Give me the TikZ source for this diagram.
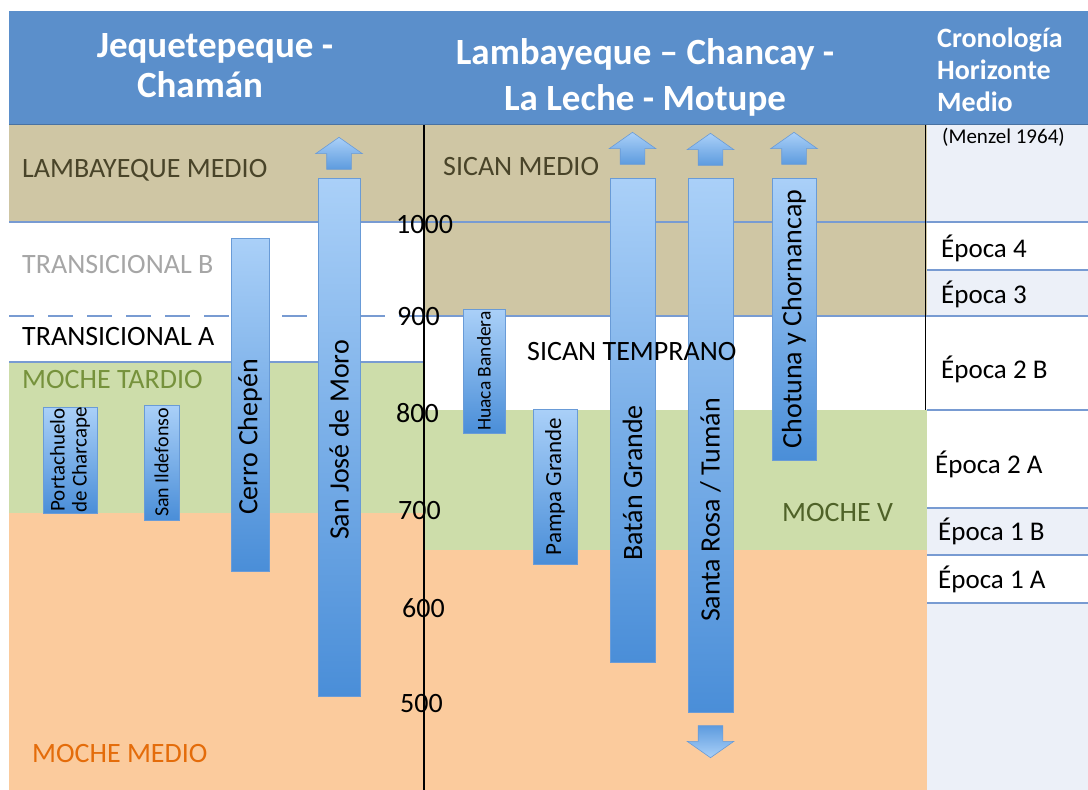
\documentclass[tikz,border=0pt]{standalone}
\usepackage{fontspec}
\setmainfont{Carlito}
\usetikzlibrary{shapes.arrows,positioning}

\definecolor{headblue}{RGB}{91,143,203}
\definecolor{tanband}{RGB}{207,198,164}
\definecolor{greenband}{RGB}{205,221,170}
\definecolor{orangeband}{RGB}{251,203,157}
\definecolor{paleblue}{RGB}{236,240,248}
\definecolor{gridblue}{RGB}{120,155,210}
\definecolor{barlight}{RGB}{170,208,248}
\definecolor{bardark}{RGB}{74,142,216}
\definecolor{barline}{RGB}{105,155,215}
\definecolor{olivetext}{RGB}{73,68,41}
\definecolor{greentext}{RGB}{118,146,60}
\definecolor{vtext}{RGB}{79,98,40}
\definecolor{orangetext}{RGB}{228,108,10}
\definecolor{greytext}{RGB}{166,166,166}

\begin{document}
\begin{tikzpicture}[x=1pt, y=-1pt,
        bar/.style={draw=barline, line width=0.8pt, top color=barlight, bottom color=bardark, inner sep=0pt},
        uparrow/.style={single arrow, shape border rotate=90, draw=barline, line width=0.6pt,
            top color=barlight, bottom color=bardark!80!barlight, minimum height=32pt,
            single arrow head extend=11pt, single arrow tip angle=110, inner xsep=12pt, inner ysep=0pt},
        downarrow/.style={uparrow, shape border rotate=270, top color=bardark!80!barlight, bottom color=barlight},
        barlabel/.style={rotate=90, inner sep=0pt, font=\fontsize{28}{30}\selectfont},
        band/.style={anchor=base west, inner sep=0pt, font=\fontsize{28}{30}\selectfont},
        year/.style={anchor=base west, inner sep=0pt, font=\fontsize{28}{30}\selectfont},
        epoca/.style={anchor=base west, inner sep=0pt, font=\fontsize{27}{30}\selectfont},
        head/.style={text=white, align=center, inner sep=0pt, font=\bfseries\fontsize{37}{40}\selectfont},
        gridline/.style={draw=gridblue, line width=1.2pt}]
        \useasboundingbox (0,0) rectangle (1088,790);

        % Bands
        \fill[headblue] (9,11) rectangle (1088,124);
        \draw[headblue!80!black, line width=0.8pt] (9,124) -- (1088,124);
        \fill[tanband] (9,125) rectangle (424,222);
        \fill[greenband] (9,362) rectangle (424,513);
        \fill[orangeband] (9,513) rectangle (424,790);
        \fill[tanband] (424,125) rectangle (927,316);
        \fill[greenband] (424,410) rectangle (927,550);
        \fill[orangeband] (424,550) rectangle (927,790);
        \fill[paleblue] (927,125) rectangle (1088,222);
        \fill[paleblue] (927,270) rectangle (1088,316);
        \fill[paleblue] (927,508) rectangle (1088,555);
        \fill[paleblue] (927,603) rectangle (1088,790);

        % Grid lines
        \draw[gridline] (9,222) -- (1088,222);
        \draw[gridline] (424,316) -- (1088,316);
        \draw[gridline, dash pattern=on 25pt off 14pt] (9,316) -- (424,316);
        \draw[gridline] (9,362) -- (424,362);
        \foreach \y in {270,410,508,555,603}
            \draw[gridline] (927,\y) -- (1088,\y);
        \draw[black, line width=1pt] (925,125) -- (925,410);

        % Headings
        \node[head] (hjeq) at (215,66) {Jequetepeque -\\Chamán\hspace*{30pt}};
        \node[head, font=\bfseries\fontsize{37}{46}\selectfont] (hlam) at (645,77) {Lambayeque – Chancay -\\La Leche - Motupe};
        \node[anchor=west, text=white, align=left, inner sep=0pt, font=\bfseries\fontsize{28}{32}\selectfont] (hcron) at (937,70) {Cronología\\Horizonte\\Medio};

        % Menzel column
        \node[anchor=base west, inner sep=0pt, font=\fontsize{21}{24}\selectfont] (menzel) at (942,143) {(Menzel 1964)};
        \node[epoca] (ep4) at (941,257) {Época 4};
        \node[epoca] (ep3) at (941,303) {Época 3};
        \node[epoca] (ep2b) at (941,378) {Época 2 B};
        \node[epoca] (ep2a) at (935,473) {Época 2 A};
        \node[epoca] (ep1b) at (938,540) {Época 1 B};
        \node[epoca] (ep1a) at (938,588) {Época 1 A};

        % Years
        \foreach \yr/\x/\y in {1000/396/233, 900/397/325, 800/396/422, 700/398/519, 600/402/617, 500/400/712}
            \node[year] (y\yr) at (\x,\y) {\yr};
        \draw[black, line width=1.2pt] (424,125) -- (424,790);

        % Sites
        \node[bar, minimum width=54pt, minimum height=106pt] (port) at (70,460) {};
        \node[bar, minimum width=35pt, minimum height=115pt] (sild) at (161.5,462.5) {};
        \node[bar, minimum width=38pt, minimum height=333pt] (cchep) at (250,404.5) {};
        \node[bar, minimum width=42pt, minimum height=518pt] (sjm) at (339,437) {};
        \node[bar, minimum width=42pt, minimum height=124pt] (hband) at (484,371) {};
        \node[bar, minimum width=44pt, minimum height=155pt] (pampa) at (555,486.5) {};
        \node[bar, minimum width=45pt, minimum height=484pt] (batan) at (632.5,420) {};
        \node[bar, minimum width=45pt, minimum height=534pt] (srosa) at (710.5,445) {};
        \node[bar, minimum width=44pt, minimum height=282pt] (chot) at (794,319) {};

        \node[barlabel, align=center, font=\fontsize{21}{22}\selectfont] (port-t) at (port.center) {Portachuelo\\de Charcape};
        \node[barlabel, font=\fontsize{20}{22}\selectfont] (sild-t) at (sild.center) {San Ildefonso};
        \node[barlabel] (cchep-t) at (250,437) {Cerro Chepén};
        \node[barlabel] (sjm-t) at (339,440) {San José de Moro};
        \node[barlabel, font=\fontsize{19.5}{21}\selectfont] (hband-t) at (hband.center) {Huaca Bandera};
        \node[barlabel, font=\fontsize{23}{25}\selectfont] (pampa-t) at (pampa.center) {Pampa Grande};
        \node[barlabel] (batan-t) at (632.5,483) {Batán Grande};
        \node[barlabel] (srosa-t) at (710.5,510) {Santa Rosa / Tumán};
        \node[barlabel] (chot-t) at (chot.center) {Chotuna y Chornancap};

        % Continuation arrows
        \node[uparrow, above=8pt of sjm] (sjm-up) {};
        \node[uparrow, above=13pt of batan] (batan-up) {};
        \node[uparrow, above=12pt of srosa] (srosa-up) {};
        \node[uparrow, above=13pt of chot] (chot-up) {};
        \node[downarrow, below=13pt of srosa] (srosa-down) {};

        % Period names
        \node[band, text=olivetext] (lmed) at (22,177) {LAMBAYEQUE MEDIO};
        \node[band, text=greytext] (tranb) at (22,273) {TRANSICIONAL B};
        \node[band] (trana) at (22,345) {TRANSICIONAL A};
        \node[band, text=greentext] (mtard) at (22,388) {MOCHE TARDIO};
        \node[band, text=orangetext] (mmed) at (32,762) {MOCHE MEDIO};
        \node[band, text=olivetext] (smed) at (443,175) {SICAN MEDIO};
        \node[band] (stemp) at (527,360) {SICAN TEMPRANO};
        \node[band, text=vtext] (mv) at (782,521) {MOCHE V};
\end{tikzpicture}
\end{document}
